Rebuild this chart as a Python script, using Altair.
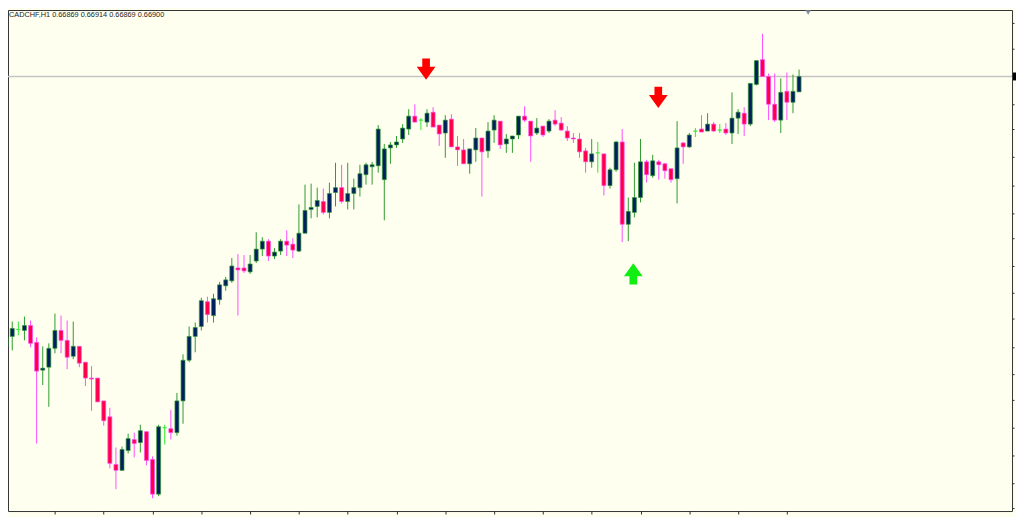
import altair as alt
import pandas as pd

symbol_title = "CADCHF,H1  0.66869 0.66914 0.66869 0.66900"

bar_index = list(range(131))

open_ = [
    0.66356, 0.66376, 0.66390, 0.66388, 0.66398, 0.66364, 0.66308, 0.66314, 0.66352, 0.66388,
    0.66368, 0.66336, 0.66356, 0.66324, 0.66292, 0.66292, 0.66246, 0.66214, 0.66118, 0.66106,
    0.66146, 0.66168, 0.66162, 0.66184, 0.66128, 0.66058, 0.66192, 0.66190, 0.66182, 0.66246,
    0.66328, 0.66376, 0.66396, 0.66446, 0.66418, 0.66450, 0.66478, 0.66488, 0.66514, 0.66514,
    0.66506, 0.66528, 0.66552, 0.66568, 0.66538, 0.66548, 0.66568, 0.66562, 0.66548, 0.66584,
    0.66632, 0.66638, 0.66648, 0.66626, 0.66666, 0.66676, 0.66648, 0.66664, 0.66676, 0.66702,
    0.66718, 0.66720, 0.66692, 0.66756, 0.66762, 0.66774, 0.66794, 0.66820, 0.66812, 0.66808,
    0.66828, 0.66802, 0.66786, 0.66814, 0.66758, 0.66752, 0.66724, 0.66752, 0.66776, 0.66750,
    0.66792, 0.66810, 0.66764, 0.66774, 0.66782, 0.66820, 0.66810, 0.66786, 0.66800, 0.66790,
    0.66812, 0.66806, 0.66790, 0.66776, 0.66774, 0.66750, 0.66728, 0.66746, 0.66744, 0.66680,
    0.66712, 0.66768, 0.66602, 0.66626, 0.66656, 0.66728, 0.66700, 0.66728, 0.66724, 0.66714,
    0.66694, 0.66766, 0.66758, 0.66790, 0.66794, 0.66790, 0.66804, 0.66792, 0.66794, 0.66786,
    0.66816, 0.66826, 0.66804, 0.66884, 0.66934, 0.66900, 0.66844, 0.66812, 0.66870, 0.66848,
    0.66869,
]

high_ = [
    0.66384, 0.66406, 0.66406, 0.66416, 0.66408, 0.66374, 0.66356, 0.66362, 0.66422, 0.66418,
    0.66408, 0.66406, 0.66356, 0.66324, 0.66316, 0.66292, 0.66246, 0.66232, 0.66152, 0.66154,
    0.66180, 0.66182, 0.66198, 0.66184, 0.66134, 0.66198, 0.66198, 0.66228, 0.66262, 0.66340,
    0.66396, 0.66404, 0.66454, 0.66456, 0.66462, 0.66486, 0.66496, 0.66534, 0.66542, 0.66540,
    0.66540, 0.66586, 0.66576, 0.66572, 0.66554, 0.66572, 0.66590, 0.66574, 0.66642, 0.66682,
    0.66684, 0.66676, 0.66674, 0.66686, 0.66726, 0.66722, 0.66726, 0.66694, 0.66722, 0.66726,
    0.66728, 0.66802, 0.66764, 0.66768, 0.66780, 0.66804, 0.66834, 0.66844, 0.66816, 0.66834,
    0.66838, 0.66802, 0.66822, 0.66824, 0.66780, 0.66774, 0.66754, 0.66796, 0.66776, 0.66808,
    0.66822, 0.66810, 0.66784, 0.66780, 0.66820, 0.66840, 0.66810, 0.66816, 0.66800, 0.66814,
    0.66832, 0.66818, 0.66800, 0.66786, 0.66786, 0.66756, 0.66774, 0.66768, 0.66744, 0.66716,
    0.66770, 0.66794, 0.66656, 0.66726, 0.66774, 0.66732, 0.66742, 0.66732, 0.66726, 0.66714,
    0.66810, 0.66768, 0.66786, 0.66796, 0.66822, 0.66826, 0.66808, 0.66804, 0.66806, 0.66868,
    0.66834, 0.66838, 0.66886, 0.66932, 0.66986, 0.66906, 0.66906, 0.66896, 0.66908, 0.66904,
    0.66914,
]

low_ = [
    0.66326, 0.66348, 0.66378, 0.66368, 0.66354, 0.66160, 0.66278, 0.66234, 0.66342, 0.66342,
    0.66310, 0.66330, 0.66314, 0.66276, 0.66226, 0.66244, 0.66196, 0.66110, 0.66068, 0.66106,
    0.66140, 0.66132, 0.66142, 0.66116, 0.66050, 0.66054, 0.66158, 0.66168, 0.66176, 0.66200,
    0.66324, 0.66344, 0.66388, 0.66404, 0.66404, 0.66440, 0.66468, 0.66484, 0.66418, 0.66504,
    0.66502, 0.66524, 0.66538, 0.66528, 0.66532, 0.66540, 0.66538, 0.66534, 0.66546, 0.66584,
    0.66614, 0.66616, 0.66622, 0.66614, 0.66638, 0.66644, 0.66632, 0.66632, 0.66658, 0.66682,
    0.66682, 0.66706, 0.66610, 0.66724, 0.66756, 0.66766, 0.66782, 0.66808, 0.66792, 0.66798,
    0.66798, 0.66760, 0.66736, 0.66758, 0.66720, 0.66724, 0.66704, 0.66728, 0.66658, 0.66736,
    0.66766, 0.66754, 0.66746, 0.66746, 0.66774, 0.66808, 0.66728, 0.66782, 0.66778, 0.66786,
    0.66800, 0.66790, 0.66770, 0.66766, 0.66736, 0.66706, 0.66716, 0.66706, 0.66660, 0.66674,
    0.66708, 0.66566, 0.66568, 0.66616, 0.66646, 0.66686, 0.66696, 0.66692, 0.66694, 0.66686,
    0.66644, 0.66724, 0.66756, 0.66778, 0.66788, 0.66790, 0.66788, 0.66786, 0.66782, 0.66764,
    0.66784, 0.66780, 0.66800, 0.66882, 0.66900, 0.66812, 0.66808, 0.66786, 0.66812, 0.66826,
    0.66869,
]

close_ = [
    0.66374, 0.66392, 0.66390, 0.66398, 0.66362, 0.66306, 0.66312, 0.66352, 0.66388, 0.66368,
    0.66334, 0.66356, 0.66322, 0.66292, 0.66290, 0.66244, 0.66206, 0.66120, 0.66106, 0.66148,
    0.66170, 0.66160, 0.66186, 0.66126, 0.66058, 0.66194, 0.66192, 0.66182, 0.66246, 0.66328,
    0.66376, 0.66394, 0.66448, 0.66420, 0.66452, 0.66480, 0.66490, 0.66518, 0.66510, 0.66508,
    0.66522, 0.66552, 0.66568, 0.66538, 0.66546, 0.66568, 0.66560, 0.66550, 0.66584, 0.66630,
    0.66636, 0.66650, 0.66626, 0.66664, 0.66676, 0.66648, 0.66664, 0.66676, 0.66704, 0.66722,
    0.66722, 0.66794, 0.66754, 0.66762, 0.66768, 0.66796, 0.66820, 0.66808, 0.66812, 0.66826,
    0.66798, 0.66784, 0.66812, 0.66758, 0.66752, 0.66724, 0.66754, 0.66776, 0.66748, 0.66790,
    0.66812, 0.66762, 0.66774, 0.66780, 0.66820, 0.66812, 0.66780, 0.66796, 0.66782, 0.66810,
    0.66804, 0.66792, 0.66776, 0.66774, 0.66748, 0.66728, 0.66744, 0.66746, 0.66680, 0.66712,
    0.66768, 0.66602, 0.66628, 0.66656, 0.66728, 0.66702, 0.66730, 0.66722, 0.66710, 0.66692,
    0.66756, 0.66758, 0.66782, 0.66790, 0.66788, 0.66804, 0.66790, 0.66792, 0.66786, 0.66816,
    0.66828, 0.66804, 0.66886, 0.66932, 0.66900, 0.66844, 0.66812, 0.66868, 0.66848, 0.66870,
    0.66900,
]

bid_price = [0.66900]

arrow_bar = [68.85, 106.92, 102.82]
arrow_price = [0.66915, 0.66858, 0.66502]
arrow_kind = ["sell", "sell", "buy"]

time_tick_bars = [0, 8, 16, 24, 32, 40, 48, 56, 64, 72, 80, 88, 96, 104, 112, 120, 128]
price_ticks = [
    0.67008, 0.66957, 0.66902, 0.66845, 0.66794, 0.66738, 0.66681, 0.66625, 0.66575, 0.66519,
    0.66463, 0.66412, 0.66355, 0.66300, 0.66249, 0.66193, 0.66137, 0.66081, 0.66030,
]

candles = pd.DataFrame({"i": bar_index, "open": open_, "high": high_, "low": low_, "close": close_})
bid_df = pd.DataFrame({"bid": bid_price})
arrows = pd.DataFrame({"i": arrow_bar, "price": arrow_price, "kind": arrow_kind})
title_df = pd.DataFrame({"label": [symbol_title]})

x_scale = alt.Scale(domain=[1.118, 164.1], nice=False, zero=False)
y_scale = alt.Scale(domain=[0.66024, 0.67034], nice=False, zero=False)

x_axis = alt.Axis(values=time_tick_bars, labels=False, domain=False, grid=False, ticks=True,
                  tickSize=3, tickColor="#2b2b2b", tickWidth=1, title=None)
y_axis = alt.Axis(orient="right", values=price_ticks, labels=False, domain=False, grid=False,
                  ticks=True, tickSize=2, tickColor="#2b2b2b", tickWidth=1, title=None)

dirs = ["up", "down", "doji"]
wick_scale = alt.Scale(domain=dirs, range=["#2f9a2f", "#ff4dff", "#2ee82e"])
body_scale = alt.Scale(domain=dirs, range=["#001f5f", "#ff0048", "#2ee82e"])
dir_expr = "datum.close > datum.open ? 'up' : (datum.close < datum.open ? 'down' : 'doji')"

base = alt.Chart(candles).transform_calculate(dir=dir_expr)

bid_line = alt.Chart(bid_df).mark_rule(color="#c4c4c4", strokeWidth=1.5).encode(
    y=alt.Y("bid:Q", scale=y_scale, axis=y_axis)
)

wicks = base.mark_rule(strokeWidth=1, clip=True).encode(
    x=alt.X("i:Q", scale=x_scale, axis=x_axis),
    y=alt.Y("low:Q", scale=y_scale, axis=y_axis),
    y2="high:Q",
    stroke=alt.Stroke("dir:N", scale=wick_scale, legend=None),
)

bodies = base.mark_bar(size=4, strokeWidth=0.7, clip=True).encode(
    x=alt.X("i:Q", scale=x_scale, axis=x_axis),
    y=alt.Y("open:Q", scale=y_scale, axis=y_axis),
    y2="close:Q",
    fill=alt.Fill("dir:N", scale=body_scale, legend=None),
    stroke=alt.Stroke("dir:N", scale=wick_scale, legend=None),
)

DOWN_ARROW = "M-0.36,-1 L0.36,-1 L0.36,-0.22 L0.88,-0.22 L0,1 L-0.88,-0.22 L-0.36,-0.22 Z"
UP_ARROW = "M-0.36,1 L0.36,1 L0.36,0.22 L0.88,0.22 L0,-1 L-0.88,0.22 L-0.36,0.22 Z"

sell_arrows = alt.Chart(arrows).transform_filter("datum.kind == 'sell'").mark_point(
    shape=DOWN_ARROW, filled=True, size=460, color="#ff0000", opacity=1, strokeWidth=0
).encode(
    x=alt.X("i:Q", scale=x_scale, axis=x_axis),
    y=alt.Y("price:Q", scale=y_scale, axis=y_axis),
)

buy_arrows = alt.Chart(arrows).transform_filter("datum.kind == 'buy'").mark_point(
    shape=UP_ARROW, filled=True, size=460, color="#11ee11", opacity=1, strokeWidth=0
).encode(
    x=alt.X("i:Q", scale=x_scale, axis=x_axis),
    y=alt.Y("price:Q", scale=y_scale, axis=y_axis),
)

bid_marker = alt.Chart(bid_df).mark_square(color="#000000", size=64, opacity=1, filled=True).encode(
    y=alt.Y("bid:Q", scale=y_scale, axis=y_axis),
    x=alt.value(1017),
)

title_text = alt.Chart(title_df).mark_text(
    align="left", baseline="top", font="Liberation Sans", fontSize=7.4, color="#1e1e1e"
).encode(text="label:N", x=alt.value(1), y=alt.value(1))

shift_marker = alt.Chart(title_df).mark_point(
    shape="triangle-down", filled=True, size=30, color="#8090a4", opacity=1
).encode(x=alt.value(806.5), y=alt.value(2.5))

chart = alt.layer(
    bid_line, wicks, bodies, sell_arrows, buy_arrows, bid_marker, title_text, shift_marker
).properties(
    width=1012,
    height=505,
    background="#FFFFF0",
    padding={"left": 0, "top": 0, "right": 4, "bottom": 4},
    autosize=alt.AutoSizeParams(type="none"),
).configure_view(stroke="#333333", strokeWidth=1)

chart.save("out.html", embed_options={"renderer": "svg", "actions": False})
